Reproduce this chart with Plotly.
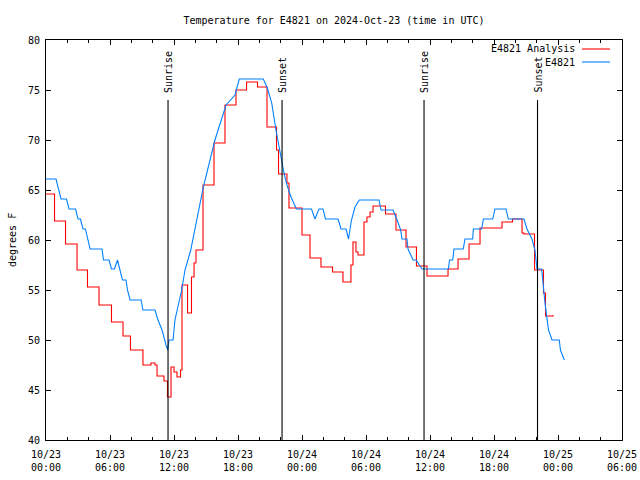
import pandas as pd
import plotly.graph_objects as go

# Observations (E4821): hours since 2024-10-23 00:00 UTC, temperature in degF
obs_hours = [0.00, 0.94, 1.41, 1.92, 2.16, 2.77, 3.00, 3.23, 3.47, 3.70, 4.13, 5.25, 5.39, 5.91,
             6.14, 6.42, 6.70, 7.17, 7.50, 7.64, 7.88, 8.91, 9.09, 10.22, 10.50, 10.88, 11.25,
             11.41, 11.53, 11.91, 12.09, 12.72, 13.03, 13.57, 14.75, 15.84, 16.88, 17.72, 18.12,
             20.37, 20.75, 21.16, 21.56, 21.94, 22.31, 22.59, 22.97, 23.48, 24.89, 25.22, 25.59,
             25.97, 26.20, 27.38, 27.66, 28.13, 28.36, 28.64, 28.97, 29.37, 31.22, 31.41, 32.53,
             32.88, 33.25, 33.38, 33.84, 33.94, 34.41, 34.69, 35.25, 37.72, 37.83, 38.13, 38.25,
             39.12, 39.28, 40.00, 40.06, 40.85, 41.00, 41.88, 42.09, 43.13, 43.34, 44.81, 45.09,
             45.56, 45.84, 46.03, 46.47, 46.78, 46.97, 47.11, 47.44, 48.12, 48.23, 48.59]
obs_temps = [66.1, 66.1, 64.1, 64.1, 63.1, 63.1, 62.1, 62.1, 61.1, 61.1, 59.1, 59.1, 58.0, 58.0,
             57.1, 57.1, 58.0, 56.0, 56.0, 55.0, 54.0, 54.0, 53.0, 53.0, 52.0, 51.0, 49.5,
             49.0, 50.0, 50.0, 52.0, 55.0, 57.0, 59.0, 65.3, 70.0, 73.5, 74.5, 76.1,
             76.1, 75.2, 73.7, 71.0, 68.7, 66.7, 65.5, 64.3, 63.1, 63.1, 62.1, 63.1,
             63.1, 62.1, 62.1, 61.1, 61.1, 60.1, 62.0, 63.3, 64.0, 64.0, 63.0, 63.0,
             62.1, 61.0, 60.1, 60.1, 59.1, 58.0, 58.0, 57.1, 57.1, 58.0, 58.0, 59.1,
             59.1, 60.1, 60.1, 61.1, 61.1, 62.1, 62.1, 63.1, 63.1, 62.1, 62.1, 61.1,
             60.1, 59.0, 57.1, 57.1, 53.7, 52.3, 51.0, 50.0, 50.0, 49.0, 48.0]

# Analysis (E4821 Analysis): step values
ana_hours = [0.00, 0.80, 1.83, 2.91, 3.89, 4.97, 6.14, 7.22, 7.92, 9.09, 9.84, 10.22, 10.41,
             11.06, 11.39, 11.72, 12.00, 12.28, 12.61, 12.75, 13.27, 13.64, 13.88, 14.06,
             14.72, 15.75, 16.78, 17.81, 18.80, 19.83, 20.72, 21.61, 21.80, 22.59, 22.78,
             24.00, 24.75, 25.78, 26.86, 27.84, 28.59, 28.78, 29.06, 29.25, 29.81, 30.09,
             30.38, 30.66, 31.83, 32.81, 33.75, 34.73, 35.72, 37.69, 38.63, 39.66, 40.69,
             42.75, 43.73, 44.63, 44.81, 45.80, 46.64, 46.83, 47.16, 47.53]
ana_temps = [64.6, 61.9, 59.6, 57.0, 55.3, 53.5, 51.8, 50.4, 49.0, 47.5, 47.7, 47.5, 46.4,
             45.9, 44.3, 47.3, 46.8, 46.3, 47.0, 55.5, 52.7, 56.3, 57.7, 59.0,
             65.5, 69.7, 73.5, 75.0, 75.8, 75.3, 71.3, 69.0, 66.6, 65.7, 63.2,
             60.5, 58.2, 57.3, 56.8, 55.8, 57.5, 59.8, 58.8, 58.5, 61.8, 62.3,
             62.8, 63.4, 62.6, 61.0, 59.3, 57.4, 56.4, 57.1, 58.1, 59.6, 61.2,
             61.8, 62.1, 60.7, 60.6, 57.0, 54.7, 52.4, 52.4, 52.5]

sun_labels = ["Sunrise", "Sunset", "Sunrise", "Sunset"]
sun_hours = [11.44, 22.13, 35.44, 46.08]
sun_line_top = 74.0

start = pd.Timestamp("2024-10-23 00:00")
to_time = lambda hs: [start + pd.Timedelta(hours=h) for h in hs]

FONT = "DejaVu Sans Mono"
FS = 10
RED = "#ff0000"
BLUE = "#0080ff"

# full 640x480 figure; the page body margin is removed by a small post script
W, H = 640, 480
ML, MR, MT, MB = 46, 18, 40, 40

fig = go.Figure()
fig.add_trace(go.Scatter(x=to_time(ana_hours), y=ana_temps, mode="lines",
                         line=dict(color=RED, width=1.1, shape="hv"),
                         name="E4821 Analysis"))
fig.add_trace(go.Scatter(x=to_time(obs_hours), y=obs_temps, mode="lines",
                         line=dict(color=BLUE, width=1.1),
                         name="E4821"))

for lab, h in zip(sun_labels, sun_hours):
    t = start + pd.Timedelta(hours=h)
    fig.add_shape(type="line", xref="x", yref="y", x0=t, x1=t, y0=40, y1=sun_line_top,
                  line=dict(color="black", width=1.1))
    fig.add_annotation(x=t, y=sun_line_top, xref="x", yref="y", text=lab, textangle=-90,
                       showarrow=False, xanchor="center", yanchor="bottom", yshift=5,
                       font=dict(family=FONT, size=FS, color="black"))

# manual legend (text on the left, line sample on the right, like the original)
PX_L, PX_W, PX_T, PX_H = 46, 576, 40, 400   # plot area in window pixels
legend_items = [("E4821 Analysis", RED), ("E4821", BLUE)]
for i, (name, col) in enumerate(legend_items):
    ypx = 49 + i * 13
    yp = 1 - (ypx - PX_T) / PX_H
    fig.add_annotation(x=(577 - PX_L) / PX_W, y=yp, xref="paper", yref="paper", text=name,
                       showarrow=False, xanchor="right", yanchor="middle",
                       font=dict(family=FONT, size=FS, color="black"))
    fig.add_shape(type="line", xref="paper", yref="paper",
                  x0=(582 - PX_L) / PX_W, x1=(610 - PX_L) / PX_W, y0=yp, y1=yp,
                  line=dict(color=col, width=1.1))

fig.add_annotation(x=0, y=0.5, xref="paper", yref="paper", text="degrees F", textangle=-90,
                   showarrow=False, xanchor="center", yanchor="middle", xshift=-34,
                   font=dict(family=FONT, size=FS, color="black"))

fig.update_layout(
    width=W, height=H,
    margin=dict(l=ML, r=MR, t=MT, b=MB, autoexpand=False),
    paper_bgcolor="white", plot_bgcolor="white",
    showlegend=False,
    font=dict(family=FONT, size=FS, color="black"),
    title=dict(text="Temperature for E4821 on 2024-Oct-23 (time in UTC)",
               x=334 / W, xanchor="center", y=1 - 20 / H, yanchor="middle",
               yref="container", automargin=False,
               font=dict(family=FONT, size=FS, color="black")),
)
fig.update_xaxes(
    type="date", automargin=False,
    range=[start, start + pd.Timedelta(hours=54)],
    dtick=6 * 3600 * 1000, tick0=start,
    tickformat="%m/%d<br>%H:%M",
    ticks="inside", ticklen=5, tickcolor="black", ticklabelstandoff=5,
    ticklabeloverflow="allow",
    minor=dict(dtick=2 * 3600 * 1000, ticks="inside", ticklen=3, tickcolor="black"),
    showline=True, linecolor="black", linewidth=1, mirror="ticks",
    showgrid=False, zeroline=False,
    tickfont=dict(family=FONT, size=FS),
)
fig.update_yaxes(
    range=[40, 80], dtick=5, automargin=False,
    ticks="inside", ticklen=5, tickcolor="black", ticklabelstandoff=3,
    showline=True, linecolor="black", linewidth=1, mirror="ticks",
    showgrid=False, zeroline=False,
    tickfont=dict(family=FONT, size=FS),
)

fig.write_html("out.html",
               config={"displayModeBar": False},
               post_script="document.body.style.margin='0';document.body.style.overflow='hidden';")
